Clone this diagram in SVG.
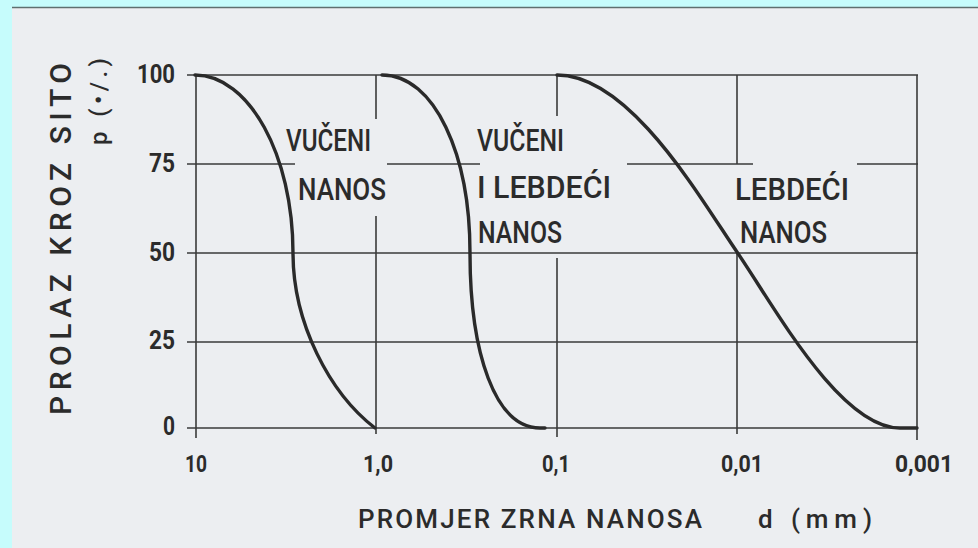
<svg xmlns="http://www.w3.org/2000/svg" width="978" height="548" viewBox="0 0 978 548">
  <style>
    .grid { stroke: #3a3a3a; stroke-width: 1.6; fill: none; }
    .curve { stroke: #2a2a2a; stroke-width: 3.4; fill: none; stroke-linecap: round; stroke-linejoin: round; }
    .lbl { font-family: Roboto, "DejaVu Sans", sans-serif; font-weight: 500; font-size: 32px; fill: #2b2b2b; }
    .tick { font-family: Roboto, "DejaVu Sans", sans-serif; font-weight: bold; font-size: 25px; fill: #2b2b2b; }
    .xtick { font-family: Roboto, "DejaVu Sans", sans-serif; font-weight: bold; font-size: 24px; fill: #2b2b2b; }
    .title { font-family: Roboto, "DejaVu Sans", sans-serif; font-weight: 500; font-size: 26px; fill: #2b2b2b; }
    .ytitle { font-family: Roboto, "DejaVu Sans", sans-serif; font-weight: 500; font-size: 30px; fill: #2b2b2b; }
  </style>

  <!-- background -->
  <rect x="0" y="0" width="978" height="548" fill="#c6fcfc"/>
  <rect x="12" y="7" width="966" height="541" fill="#eceef1"/>
  <line x1="12" y1="7.5" x2="978" y2="7.5" stroke="#5f6f6f" stroke-width="1.5"/>

  <!-- grid -->
  <g id="grid" class="grid">
    <line x1="187" y1="75" x2="918" y2="75"/>
    <line x1="187" y1="164" x2="295" y2="164"/>
    <line x1="387" y1="164" x2="480" y2="164"/>
    <line x1="627" y1="164" x2="753" y2="164"/>
    <line x1="857" y1="164" x2="918" y2="164"/>
    <line x1="187" y1="253" x2="918" y2="253"/>
    <line x1="187" y1="342" x2="918" y2="342"/>
    <line x1="187" y1="428" x2="918" y2="428"/>

    <line x1="196" y1="75" x2="196" y2="438"/>
    <line x1="376" y1="75" x2="376" y2="119"/>
    <line x1="376" y1="216" x2="376" y2="434"/>
    <line x1="557" y1="75" x2="557" y2="116"/>
    <line x1="557" y1="258" x2="557" y2="437"/>
    <line x1="737" y1="75" x2="737" y2="164"/>
    <line x1="737" y1="253" x2="737" y2="434"/>
    <line x1="917" y1="75" x2="917" y2="440"/>
  </g>

  <!-- curves -->
  <g id="curves">
    <path id="curve-vuceni" class="curve" d="M195,75 C249,75 293,155 293,253 C293,323 329.5,393 375,428"/>
    <path id="curve-vuceni-lebdeci" class="curve" d="M382,75 C435,75 470,155 470,253 C470,353 495,428 540,428 L545,428"/>
    <path id="curve-lebdeci" class="curve" d="M557,75 C630,75 700,198 737,252 C774,306 840,428 900,428 L917,428"/>
  </g>

  <!-- curve labels -->
  <g id="label-vuceni">
    <text class="lbl" x="286" y="151" textLength="85" lengthAdjust="spacingAndGlyphs">VUČENI</text>
    <text class="lbl" x="298" y="200" textLength="88" lengthAdjust="spacingAndGlyphs">NANOS</text>
  </g>
  <g id="label-vuceni-lebdeci">
    <text class="lbl" x="477" y="151" textLength="87" lengthAdjust="spacingAndGlyphs">VUČENI</text>
    <text class="lbl" x="477" y="198" textLength="134" lengthAdjust="spacingAndGlyphs">I LEBDEĆI</text>
    <text class="lbl" x="478" y="243" textLength="84" lengthAdjust="spacingAndGlyphs">NANOS</text>
  </g>
  <g id="label-lebdeci">
    <text class="lbl" x="735" y="200" textLength="114" lengthAdjust="spacingAndGlyphs">LEBDEĆI</text>
    <text class="lbl" x="740" y="243" textLength="87" lengthAdjust="spacingAndGlyphs">NANOS</text>
  </g>

  <!-- y ticks -->
  <g id="y-ticks" text-anchor="end">
    <text class="tick" x="175" y="83" textLength="38" lengthAdjust="spacingAndGlyphs">100</text>
    <text class="tick" x="175" y="172" textLength="26" lengthAdjust="spacingAndGlyphs">75</text>
    <text class="tick" x="175" y="261" textLength="26" lengthAdjust="spacingAndGlyphs">50</text>
    <text class="tick" x="175" y="349" textLength="26" lengthAdjust="spacingAndGlyphs">25</text>
    <text class="tick" x="175" y="435" textLength="12" lengthAdjust="spacingAndGlyphs">0</text>
  </g>

  <!-- x ticks -->
  <g id="x-ticks">
    <text class="xtick" x="185" y="472" textLength="22" lengthAdjust="spacingAndGlyphs">10</text>
    <text class="xtick" x="363" y="472" textLength="30" lengthAdjust="spacingAndGlyphs">1,0</text>
    <text class="xtick" x="542" y="472" textLength="28" lengthAdjust="spacingAndGlyphs">0,1</text>
    <text class="xtick" x="721" y="472" textLength="42" lengthAdjust="spacingAndGlyphs">0,01</text>
    <text class="xtick" x="895" y="472" textLength="58" lengthAdjust="spacingAndGlyphs">0,001</text>
  </g>

  <!-- axis titles -->
  <g id="x-title">
    <text class="title" x="358" y="528" textLength="344" lengthAdjust="spacing">PROMJER ZRNA NANOSA</text>
    <text class="title" x="758" y="528" textLength="114" lengthAdjust="spacing">d (mm)</text>
  </g>
  <g id="y-title">
    <text class="ytitle" transform="translate(71,415) rotate(-90)" x="0" y="0" textLength="352" lengthAdjust="spacing">PROLAZ KROZ SITO</text>
    <text class="title" style="font-size:24px" transform="translate(107,145) rotate(-90)" x="0" y="0" textLength="87" lengthAdjust="spacing">p (•/.)</text>
  </g>
</svg>
